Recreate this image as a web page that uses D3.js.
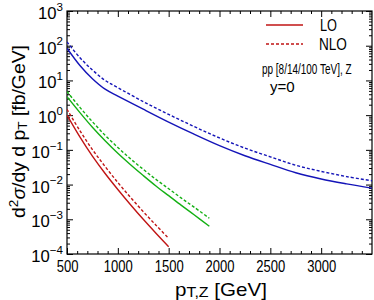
<!DOCTYPE html>
<html>
<head>
<meta charset="utf-8">
<script src="https://cdn.jsdelivr.net/npm/d3@7"></script>
<style>
  body { margin: 0; background: #fff; }
  svg { font-family: "Liberation Sans", Arial, sans-serif; }
</style>
</head>
<body>
<div id="chart"></div>
<script>
// pT grids (GeV)
var ptBlue  = [500, 625, 750, 875, 1000, 1250, 1500, 1750, 2000, 2250, 2500, 2750, 3000, 3250, 3500];
var ptGreen = [500, 625, 750, 875, 1000, 1125, 1250, 1375, 1500, 1625, 1750, 1900];
var ptRed   = [500, 625, 750, 875, 1000, 1125, 1250, 1375, 1500];

// d2sigma/dy dpT [fb/GeV]
// blue: 100 TeV, green: 14 TeV, red: 8 TeV
var blueLO   = [85, 27.5, 11.2, 5.6, 3.55, 1.48, 0.63, 0.282, 0.132, 0.0676, 0.038, 0.0219, 0.0145, 0.0105, 0.0079];
var blueNLO  = [129, 45.7, 20, 10, 6.2, 2.45, 1.05, 0.47, 0.22, 0.112, 0.063, 0.036, 0.024, 0.017, 0.0129];
var greenLO  = [3.39, 1.2, 0.447, 0.182, 0.0794, 0.0372, 0.0182, 0.00912, 0.00479, 0.00251, 0.00135, 0.00063];
var greenNLO = [4.79, 1.7, 0.646, 0.263, 0.1175, 0.055, 0.0275, 0.0141, 0.00759, 0.00407, 0.00224, 0.00107];
var redLO    = [1.0, 0.24, 0.066, 0.0209, 0.00724, 0.00263, 0.001, 0.000398, 0.000162];
var redNLO   = [1.48, 0.363, 0.102, 0.0331, 0.01148, 0.00427, 0.00166, 0.000676, 0.000282];

var xTicks = [500, 1000, 1500, 2000, 2500, 3000];
var yExps  = [-4, -3, -2, -1, 0, 1, 2, 3];

var margin = {top: 11, right: 2, bottom: 46, left: 67};
var W = 374, H = 300;
var width = W - margin.left - margin.right;
var height = H - margin.top - margin.bottom;

var svg = d3.select("#chart").append("svg")
    .attr("width", W)
    .attr("height", H);
var g = svg.append("g")
    .attr("transform", "translate(" + margin.left + "," + margin.top + ")");

var x = d3.scaleLinear().domain([500, 3500]).range([0, width]);
var y = d3.scaleLog().domain([1e-4, 1e3]).range([height, 0]);

// the figure uses a narrow face: squeeze a text horizontally about its anchor x
function squeeze(node, k) {
    var ax = +node.getAttribute("x") || 0;
    node.setAttribute("transform",
        "translate(" + ax + ",0) scale(" + k + ",1) translate(" + (-ax) + ",0)");
}
// squeeze so the text spans [x0, x1]
function fitWidth(sel, x0, x1) {
    var n = sel.node();
    squeeze(n, (x1 - x0) / n.getBBox().width);
}

// minor tick values
var xMinor = d3.range(500, 3501, 100).filter(v => v % 500 != 0);
var yMinor = [];
yExps.slice(0, -1).forEach(e => { for (var k = 2; k <= 9; k++) yMinor.push(k * Math.pow(10, e)); });
var yMajor = yExps.map(e => Math.pow(10, e));

function tidy(sel) {
    sel.select(".domain").remove();
    sel.selectAll("line").attr("stroke", "#000").attr("stroke-width", 1);
}

// bottom axis
var xAx = g.append("g").attr("transform", "translate(0," + height + ")")
    .call(d3.axisBottom(x).tickValues(xTicks).tickSize(-6).tickPadding(6).tickFormat(d3.format("d")))
    .call(tidy);
xAx.selectAll("text").attr("font-size", 16.5).attr("fill", "#000").attr("font-family", null);
var kx = 29 / xAx.selectAll("text").filter(d => d == 1000).node().getBBox().width;
xAx.selectAll("text").each(function() { squeeze(this, kx); });

g.append("g").attr("transform", "translate(0," + height + ")")
    .call(d3.axisBottom(x).tickValues(xMinor).tickSize(-3).tickFormat(""))
    .call(tidy);
// top axis (mirror)
g.append("g")
    .call(d3.axisTop(x).tickValues(xTicks).tickSize(-6).tickFormat(""))
    .call(tidy);
g.append("g")
    .call(d3.axisTop(x).tickValues(xMinor).tickSize(-3).tickFormat(""))
    .call(tidy);

// left axis
var yAx = g.append("g")
    .call(d3.axisLeft(y).tickValues(yMajor).tickSize(-6).tickPadding(4).tickFormat(""))
    .call(tidy);
yAx.selectAll(".tick text").each(function(d) {
    var t = d3.select(this).attr("font-size", 16.5).attr("fill", "#000").attr("font-family", null)
        .attr("dy", "0.45em");
    var e = Math.round(Math.log10(d));
    t.append("tspan").text("10");
    t.append("tspan").attr("font-size", 11.5).attr("dy", "-0.72em")
        .text(e < 0 ? "\u2212" + (-e) : e);
});
var ky = 25 / yAx.selectAll(".tick text").filter(d => d == 1000).node().getBBox().width;
yAx.selectAll(".tick text").each(function() { squeeze(this, ky); });

g.append("g")
    .call(d3.axisLeft(y).tickValues(yMinor).tickSize(-3).tickFormat(""))
    .call(tidy);
// right axis (mirror)
g.append("g").attr("transform", "translate(" + width + ",0)")
    .call(d3.axisRight(y).tickValues(yMajor).tickSize(-6).tickFormat(""))
    .call(tidy);
g.append("g").attr("transform", "translate(" + width + ",0)")
    .call(d3.axisRight(y).tickValues(yMinor).tickSize(-3).tickFormat(""))
    .call(tidy);

// frame
g.append("rect")
    .attr("width", width).attr("height", height)
    .attr("fill", "none").attr("stroke", "#000").attr("stroke-width", 1.2);

// curves
var line = d3.line()
    .x(d => x(d[0]))
    .y(d => y(d[1]))
    .curve(d3.curveCatmullRom.alpha(0.5));

var series = [
    {pt: ptBlue,  v: blueLO,   color: "#1414b8", dash: null},
    {pt: ptBlue,  v: blueNLO,  color: "#1414b8", dash: "3,2"},
    {pt: ptGreen, v: greenLO,  color: "#14b014", dash: null},
    {pt: ptGreen, v: greenNLO, color: "#14b014", dash: "3,2"},
    {pt: ptRed,   v: redLO,    color: "#c01414", dash: null},
    {pt: ptRed,   v: redNLO,   color: "#c01414", dash: "3,2"}
];

g.append("clipPath").attr("id", "clip")
    .append("rect").attr("width", width).attr("height", height);

g.append("g").attr("clip-path", "url(#clip)")
    .selectAll("path")
    .data(series)
    .enter()
    .append("path")
        .attr("d", s => line(s.pt.map((p, i) => [p, s.v[i]])))
        .attr("fill", "none")
        .attr("stroke", s => s.color)
        .attr("stroke-width", 1.4)
        .attr("stroke-dasharray", s => s.dash);

// legend
var legend = [
    {label: "LO",  dash: null, y: 25, x0: 320, x1: 337},
    {label: "NLO", dash: "3,2", y: 44, x0: 319, x1: 347}
];
legend.forEach(function(l) {
    svg.append("line")
        .attr("x1", 266).attr("x2", 303)
        .attr("y1", l.y).attr("y2", l.y)
        .attr("stroke", "#c01414").attr("stroke-width", 1.4)
        .attr("stroke-dasharray", l.dash);
    var t = svg.append("text")
        .attr("x", l.x0).attr("y", l.y + 6)
        .attr("font-size", 17)
        .text(l.label);
    fitWidth(t, l.x0, l.x1);
});

var info = svg.append("text")
    .attr("x", 262).attr("y", 74)
    .attr("font-size", 14)
    .text("pp [8/14/100 TeV], Z");
fitWidth(info, 262, 352);
var rap = svg.append("text")
    .attr("x", 270).attr("y", 92)
    .attr("font-size", 14)
    .text("y=0");
fitWidth(rap, 270, 295);

// axis titles
var xt = svg.append("text")
    .attr("x", 175).attr("y", 296)
    .attr("font-size", 18);
xt.append("tspan").text("p");
xt.append("tspan").attr("font-size", 14).attr("dy", 1).text("T,Z");
xt.append("tspan").attr("dy", -1).text(" [GeV]");
fitWidth(xt, 175, 267);

var yg = svg.append("g")
    .attr("transform", "translate(25,131.5) rotate(-90)");
var yt = yg.append("text")
    .attr("x", 0).attr("y", 0)
    .attr("text-anchor", "middle")
    .attr("font-size", 18.5);
yt.append("tspan").text("d");
yt.append("tspan").attr("font-size", 13).attr("dy", -7).text("2");
yt.append("tspan").attr("dy", 7).attr("font-style", "italic").text("\u03c3");
yt.append("tspan").text("/dy d p");
yt.append("tspan").attr("font-size", 13).attr("dy", 1.5).text("T");
yt.append("tspan").attr("dy", -1.5).text(" [fb/GeV]");
squeeze(yt.node(), 173 / yt.node().getBBox().width);
</script>
</body>
</html>
